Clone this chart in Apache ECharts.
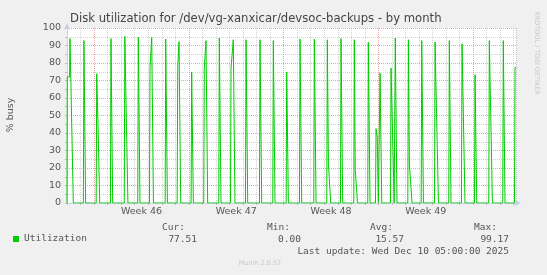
<!DOCTYPE html>
<html><head><meta charset="utf-8">
<script src="https://cdn.jsdelivr.net/npm/echarts@6/dist/echarts.min.js"></script>
<style>html,body{margin:0;padding:0;background:#f0f0f0}#c{width:547px;height:275px}</style>
</head><body><div id="c"></div>
<script>
// ---- data (x = hours since first day boundary on the axis) ----
const titleText = 'Disk utilization for /dev/vg-xanxicar/devsoc-backups - by month';
const yAxisName = '% busy';
const seriesName = 'Utilization';
const xMaxHours = 796;
const weekLabels = ['Week 46', 'Week 47', 'Week 48', 'Week 49'];
const weekMidHours = [132, 300, 468, 636];
const yTicks = [0, 10, 20, 30, 40, 50, 60, 70, 80, 90, 100];
const utilHours = [
  0, 0.5, 4.5, 5.3, 8.3, 11.2,
  29, 30, 33,
  51.7, 52.7, 54.5, 55, 58,
  77, 78, 81,
  101.5, 102.5, 105, 108,
  125.4, 126.4, 129.4,
  146.2, 147.2, 149.5, 150.2, 153.2,
  174, 175, 178,
  195.3, 196.3, 198, 198.6, 201.6,
  220, 221, 224,
  242.4, 243.4, 245.5, 246.4, 249.4,
  269, 270, 273,
  289.8, 290.8, 294, 294.8, 297.8,
  316.4, 317.4, 320.4,
  341.2, 342.2, 345.2,
  364.8, 365.8, 368.8,
  388.5, 389.5, 392.5,
  412.1, 413.1, 416.1,
  437.5, 438.5, 441.5,
  460.5, 461.5, 463.5, 464.5, 467.5,
  484.8, 485.8, 488.8,
  508.4, 509.4, 511, 512, 515,
  533.2, 534.2, 537.2,
  546.9, 547.9, 550, 552, 554, 555, 558,
  573.5, 574.5, 577, 580, 581, 582, 585,
  604.2, 605.2, 607, 609.4, 611.7,
  627.9, 628.9, 631.9,
  651.5, 652.5, 655.5, 658.5,
  676.8, 677.8, 680.8,
  699.3, 700.3, 702.6, 705.6,
  722.4, 723.4, 726.4,
  747.7, 748.7, 751.2, 754.2,
  772.5, 773.5, 776.5,
  793.3, 794.3, 796
];
const utilValues = [
  0, 72, 72, 94, 94, 0,
  0, 92.8, 0,
  0, 73.9, 73.9, 44.8, 0,
  0, 93.9, 0,
  0, 95.2, 95.2, 0,
  0, 94.7, 0,
  0, 77.5, 77.5, 94.7, 0,
  0, 93.7, 0,
  0, 77.5, 77.5, 92.2, 0,
  0, 74.9, 0,
  0, 77.1, 77.1, 92.8, 0,
  0, 94.3, 0,
  0, 77.1, 77.1, 93.3, 0,
  0, 93.3, 0,
  0, 93.3, 0,
  0, 92.8, 0,
  0, 74.9, 0,
  0, 93.7, 0,
  0, 93.7, 0,
  0, 93.3, 22.5, 22.5, 0,
  0, 93.9, 0,
  0, 93.3, 19, 19, 0,
  0, 92, 0,
  0, 42.5, 37.7, 0, 0, 74.3, 0,
  0, 77.1, 77.1, 0, 0, 94.3, 0,
  0, 93.3, 21.9, 21.9, 0,
  0, 92.8, 0,
  0, 92, 92, 0,
  0, 92.8, 0,
  0, 91, 91, 0,
  0, 73.3, 0,
  0, 92.8, 92.8, 0,
  0, 92.8, 0,
  0, 77.5, 77.5
];
const statNames = ['Cur:', 'Min:', 'Avg:', 'Max:'];
const statValues = ['77.51', '0.00', '15.57', '99.17'];
const lastUpdate = 'Last update: Wed Dec 10 05:00:00 2025';
const footer = 'Munin 2.0.57';
const sideText = 'RRDTOOL / TOBI OETIKER';

// ---- chart ----
const G = 'rgba(165,165,165,0.5)';
const R = 'rgba(235,100,100,0.6)';
const FONT = '"DejaVu Sans", sans-serif';
const MONO = '"DejaVu Sans Mono", monospace';
const seriesData = utilHours.map((h, i) => [h, utilValues[i]]);
const statHeadX = [185, 290, 393, 497];
const statValX = [197, 301, 404, 509];

const graphics = [
  {type:'text', x:11, y:115, rotation:Math.PI/2, style:{text:yAxisName, align:'center', verticalAlign:'middle', font:'9.5px ' + FONT, fill:'#555'}},
  {type:'text', x:537, y:53, rotation:-Math.PI/2, style:{text:sideText, align:'center', verticalAlign:'middle', font:'6.5px ' + FONT, fill:'#c8c8c8'}},
  {type:'text', x:509, y:252, style:{text:lastUpdate, align:'right', verticalAlign:'middle', font:'9.5px ' + MONO, fill:'#555'}},
  {type:'text', x:260, y:263, style:{text:footer, align:'center', verticalAlign:'middle', font:'6.5px ' + FONT, fill:'#c8c8c8'}}
];
statNames.forEach((n, i) => {
  graphics.push({type:'text', x:statHeadX[i], y:228, style:{text:n, align:'right', verticalAlign:'middle', font:'9.5px ' + MONO, fill:'#555'}});
  graphics.push({type:'text', x:statValX[i], y:240, style:{text:statValues[i], align:'right', verticalAlign:'middle', font:'9.5px ' + MONO, fill:'#555'}});
});

const chart = echarts.init(document.getElementById('c'), null, {renderer:'canvas'});
chart.setOption({
  backgroundColor:'#f0f0f0',
  animation:false,
  title:{text:titleText, left:70, top:13, padding:0, textStyle:{fontFamily:FONT, fontSize:11.65, fontWeight:'normal', color:'#444'}},
  legend:{data:[seriesName], left:13, top:234, padding:0, icon:'rect', itemWidth:6, itemHeight:6, itemGap:5,
    textStyle:{fontFamily:MONO, fontSize:9.5, color:'#555'}},
  grid:{left:67, right:31, top:28, bottom:72, show:true, backgroundColor:'#ffffff', borderWidth:0, containLabel:false},
  xAxis:[
    {type:'value', min:0, max:xMaxHours, interval:24,
      axisLine:{show:true, lineStyle:{color:'#c9cfe6'}, symbol:['none','arrow'], symbolSize:[5,7], symbolOffset:[0,5]},
      axisTick:{show:true, length:2, lineStyle:{color:'#bbbbbb'}},
      axisLabel:{show:false},
      splitLine:{show:true, lineStyle:{type:[1,1], width:1, color:[G,G,R,G,G,G,G]}}},
    {type:'value', min:0, max:xMaxHours, interval:12, position:'bottom',
      axisLine:{show:false}, axisTick:{show:false}, splitLine:{show:false},
      axisLabel:{show:true, margin:4, fontFamily:FONT, fontSize:9.5, color:'#555', showMinLabel:false, showMaxLabel:false,
        formatter:v => { const k = weekMidHours.indexOf(v); return k >= 0 ? weekLabels[k] : ''; }}}
  ],
  yAxis:{type:'value', min:0, max:100, interval:5,
    axisLine:{show:true, lineStyle:{color:'#c9cfe6'}, symbol:['none','arrow'], symbolSize:[5,7], symbolOffset:[0,5]},
    axisTick:{show:true, length:2, lineStyle:{color:'#bbbbbb'}},
    axisLabel:{margin:6, fontFamily:FONT, fontSize:9.5, color:'#555', formatter:v => yTicks.indexOf(v) >= 0 ? String(v) : ''},
    splitLine:{show:true, lineStyle:{type:[1,1], width:1, color:[R,G]}}},
  graphic:graphics,
  series:[{name:seriesName, type:'line', xAxisIndex:0, data:seriesData, showSymbol:false, symbol:'none',
    lineStyle:{color:'#00cc00', width:1}, itemStyle:{color:'#00cc00'}, z:5}]
});
</script></body></html>
